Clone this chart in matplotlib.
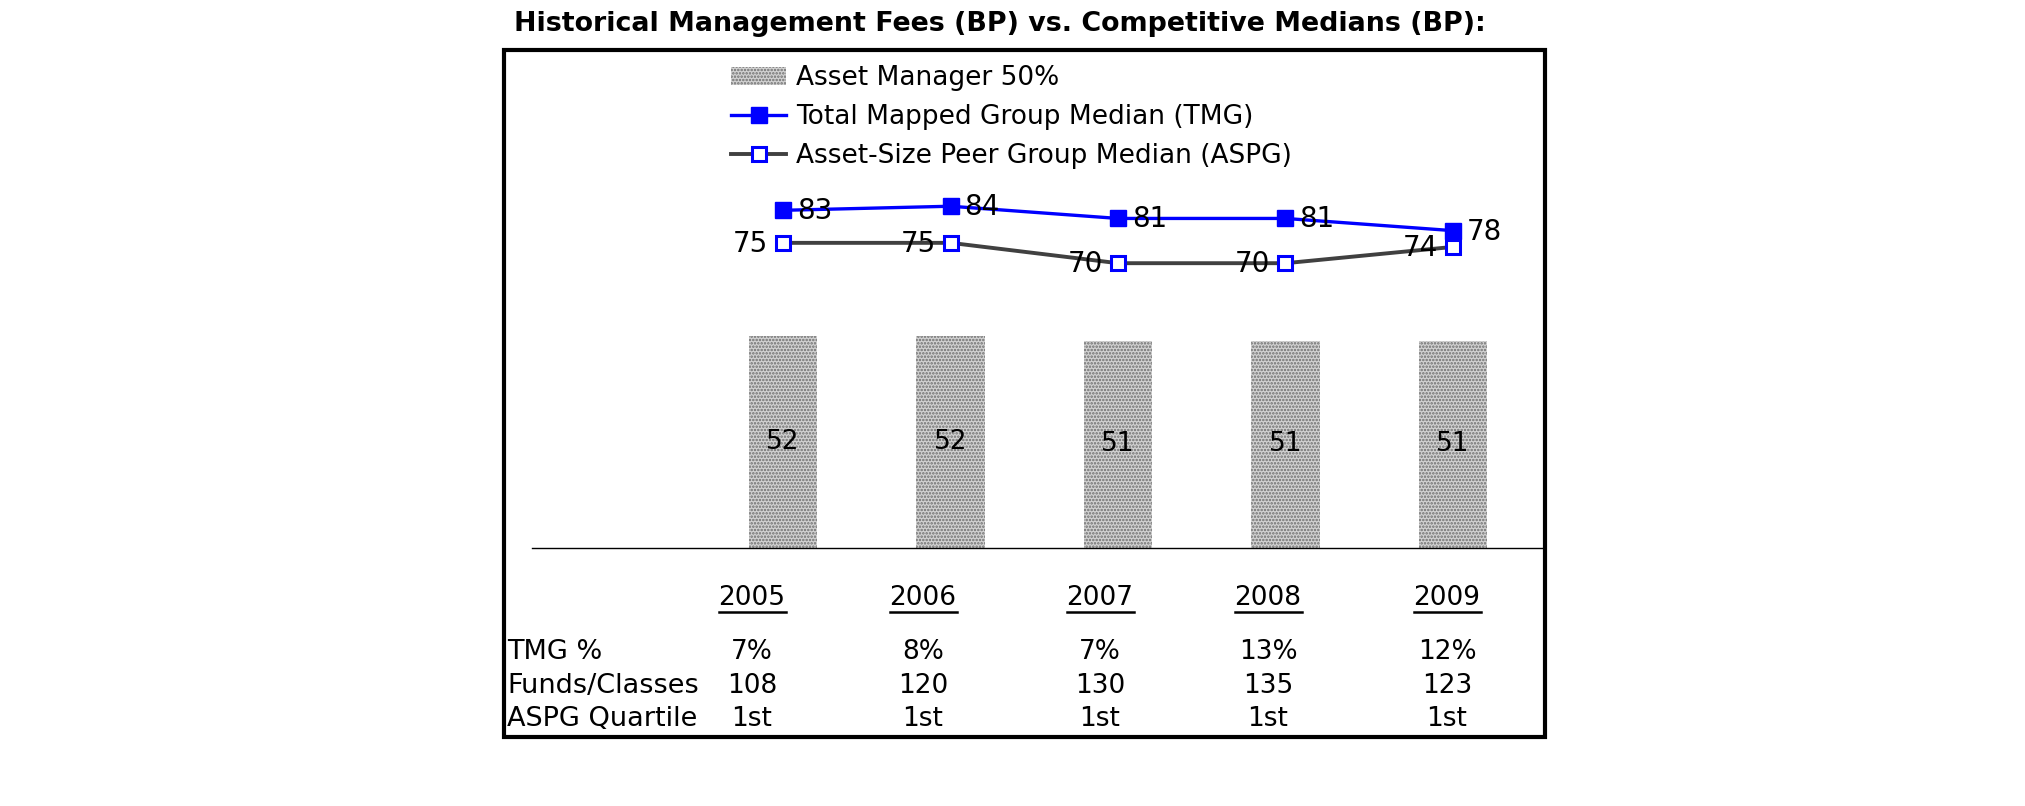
import numpy as np
import matplotlib
matplotlib.use('Agg')
import matplotlib.pyplot as plt
from matplotlib.patches import Rectangle
from matplotlib.lines import Line2D

# data
years = ['2005', '2006', '2007', '2008', '2009']
am_fee = [52, 52, 51, 51, 51]          # Asset Manager 50%
tmg_median = [83, 84, 81, 81, 78]      # Total Mapped Group Median
aspg_median = [75, 75, 70, 70, 74]     # Asset-Size Peer Group Median

row_names = ['TMG %', 'Funds/Classes', 'ASPG Quartile']
tmg_pct = ['7%', '8%', '7%', '13%', '12%']
funds_classes = ['108', '120', '130', '135', '123']
aspg_quartile = ['1st', '1st', '1st', '1st', '1st']

title = 'Historical Management Fees (BP) vs. Competitive Medians (BP):'

# figure size in pixels
W, H = 2025, 806
plt.rcParams['font.family'] = 'DejaVu Sans'

def fx(px):
    return px / W

def fy(py):
    # py measured from top
    return 1 - py / H

fig = plt.figure(figsize=(W / 100, H / 100), dpi=100)
ax = fig.add_axes([fx(532), fy(548), fx(1545 - 532), (548 - 50) / H])

blue = '#0000ff'
grey_line = '#404040'
x = np.arange(len(years))

plt.rcParams['hatch.linewidth'] = 1.2
bars = ax.bar(x, am_fee, width=0.41, color='#d2d2d2', hatch='.....',
              edgecolor='#6e6e6e', linewidth=0, label='Asset Manager 50%')
ax.bar_label(bars, label_type='center', fontsize=19)

l1, = ax.plot(x, tmg_median, color=blue, lw=2.4, marker='s', markersize=12,
              markerfacecolor=blue, markeredgecolor=blue,
              label='Total Mapped Group Median (TMG)', zorder=3)
l2, = ax.plot(x, aspg_median, color=grey_line, lw=2.8, marker='s', markersize=10.5,
              markerfacecolor='white', markeredgecolor=blue, markeredgewidth=2.2,
              label='Asset-Size Peer Group Median (ASPG)', zorder=4)

for xi, v in zip(x, tmg_median):
    ax.annotate(str(v), (xi, v), xytext=(14, -1), textcoords='offset pixels',
                ha='left', va='center', fontsize=20, zorder=5)
for xi, v in zip(x, aspg_median):
    ax.annotate(str(v), (xi, v), xytext=(-15, -1), textcoords='offset pixels',
                ha='right', va='center', fontsize=20, zorder=5)

ax.set_xlim(-1.5, 4.55)
ax.set_ylim(0, 122.4)
for s in ['top', 'right', 'left']:
    ax.spines[s].set_visible(False)
ax.spines['bottom'].set_linewidth(1.0)
ax.set_xticks([])
ax.set_yticks([])
ax.patch.set_alpha(0)

leg = fig.legend(handles=[bars, l1, l2], loc='upper left',
                 bbox_to_anchor=(fx(731), fy(65)), frameon=False,
                 fontsize=19, borderpad=0, borderaxespad=0,
                 handlelength=2.1, handletextpad=0.35, labelspacing=0.5)

# title
fig.text(fx(514), fy(24), title, fontsize=19.4, fontweight='bold',
         ha='left', va='center')

# outer box
fig.add_artist(Rectangle((fx(504), fy(737)), fx(1545 - 504), (737 - 50) / H,
                         transform=fig.transFigure, fill=False, lw=3,
                         edgecolor='black'))

# table below the chart
col_px = [752, 923, 1100, 1268, 1447]
year_texts = []
for cx, yr in zip(col_px, years):
    t = fig.text(fx(cx), fy(598), yr, fontsize=19, ha='center', va='center')
    year_texts.append(t)

rows = [tmg_pct, funds_classes, aspg_quartile]
row_py = [652, 686, 719]
for name, vals, py in zip(row_names, rows, row_py):
    fig.text(fx(507), fy(py), name, fontsize=19.5, ha='left', va='center')
    for cx, v in zip(col_px, vals):
        fig.text(fx(cx), fy(py), v, fontsize=19, ha='center', va='center')

# underline the year headings
fig.canvas.draw()
r = fig.canvas.get_renderer()
for t in year_texts:
    bb = t.get_window_extent(r)
    fig.add_artist(Line2D([bb.x0 / W, bb.x1 / W], [fy(612), fy(612)],
                          transform=fig.transFigure, color='black', lw=1.8))

fig.savefig('out.png', dpi=100)
